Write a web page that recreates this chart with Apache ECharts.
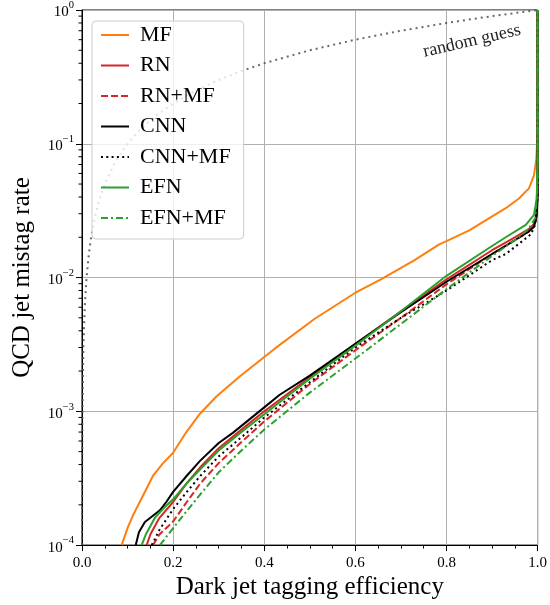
<!DOCTYPE html>
<html>
<head>
<meta charset="utf-8">
<script src="https://cdn.jsdelivr.net/npm/echarts@6/dist/echarts.min.js"></script>
<style>html,body{margin:0;padding:0;background:#fff;}#c{width:550px;height:605px;}</style>
</head>
<body>
<div id="c"></div>
<script>
// ---- data ----
const seriesNames = ['MF', 'RN', 'RN+MF', 'CNN', 'CNN+MF', 'EFN', 'EFN+MF'];

const mfEff    = [0.087, 0.101, 0.112, 0.134, 0.156, 0.178, 0.2, 0.229, 0.259, 0.295, 0.346, 0.423, 0.51, 0.6, 0.656, 0.73, 0.784, 0.8, 0.85, 0.894, 0.93, 0.959, 0.981, 0.992, 0.997, 1.0, 1.0];
const mfMistag = [1.0e-4, 1.37e-4, 1.67e-4, 2.35e-4, 3.3e-4, 4.1e-4, 4.9e-4, 7.0e-4, 9.6e-4, 1.29e-3, 1.82e-3, 2.94e-3, 4.9e-3, 7.7e-3, 9.7e-3, 1.35e-2, 1.77e-2, 1.87e-2, 2.25e-2, 2.78e-2, 3.3e-2, 3.9e-2, 4.64e-2, 5.8e-2, 7.7e-2, 0.12, 1.0];

const rnEff    = [0.142, 0.15, 0.17, 0.2, 0.23, 0.259, 0.3, 0.35, 0.4, 0.5, 0.6, 0.7, 0.8, 0.9, 0.95, 0.98, 0.992, 0.998, 1.0, 1.0];
const rnMistag = [1.0e-4, 1.2e-4, 1.6e-4, 2.1e-4, 2.9e-4, 3.8e-4, 5.3e-4, 7.3e-4, 1.0e-3, 1.8e-3, 3.2e-3, 5.6e-3, 9.7e-3, 1.6e-2, 2.0e-2, 2.3e-2, 2.5e-2, 3.0e-2, 5.0e-2, 1.0];

const rnmfEff    = [0.156, 0.17, 0.2, 0.23, 0.26, 0.3, 0.35, 0.4, 0.5, 0.6, 0.7, 0.8, 0.9, 0.95, 0.98, 0.995, 1.0, 1.0];
const rnmfMistag = [1.0e-4, 1.2e-4, 1.5e-4, 2.1e-4, 2.9e-4, 4.1e-4, 5.9e-4, 8.4e-4, 1.6e-3, 2.86e-3, 5.0e-3, 8.9e-3, 1.5e-2, 1.9e-2, 2.2e-2, 2.6e-2, 4.5e-2, 1.0];

const cnnEff    = [0.118, 0.125, 0.138, 0.15, 0.171, 0.185, 0.2, 0.23, 0.259, 0.3, 0.331, 0.4, 0.434, 0.5, 0.6, 0.7, 0.8, 0.9, 0.95, 0.98, 0.992, 0.998, 1.0, 1.0];
const cnnMistag = [1.0e-4, 1.25e-4, 1.49e-4, 1.6e-4, 1.82e-4, 2.1e-4, 2.5e-4, 3.3e-4, 4.26e-4, 5.8e-4, 6.9e-4, 1.07e-3, 1.33e-3, 1.85e-3, 3.2e-3, 5.5e-3, 9.3e-3, 1.5e-2, 1.9e-2, 2.2e-2, 2.4e-2, 2.9e-2, 4.0e-2, 1.0];

const cnnmfEff    = [0.153, 0.17, 0.2, 0.23, 0.26, 0.3, 0.35, 0.4, 0.5, 0.6, 0.7, 0.8, 0.9, 0.93, 0.96, 0.985, 0.995, 1.0, 1.0];
const cnnmfMistag = [1.0e-4, 1.3e-4, 1.86e-4, 2.5e-4, 3.3e-4, 4.6e-4, 6.4e-4, 9.0e-4, 1.65e-3, 3.0e-3, 5.0e-3, 8.0e-3, 1.35e-2, 1.5e-2, 1.8e-2, 2.1e-2, 2.5e-2, 4.0e-2, 1.0];

const efnEff    = [0.131, 0.14, 0.16, 0.18, 0.2, 0.23, 0.26, 0.3, 0.35, 0.4, 0.5, 0.6, 0.7, 0.8, 0.894, 0.93, 0.974, 0.992, 0.998, 1.0, 1.0];
const efnMistag = [1.0e-4, 1.2e-4, 1.6e-4, 1.9e-4, 2.2e-4, 2.9e-4, 3.7e-4, 5.1e-4, 7.0e-4, 9.5e-4, 1.75e-3, 3.1e-3, 5.6e-3, 1.03e-2, 1.67e-2, 2.0e-2, 2.48e-2, 2.94e-2, 3.9e-2, 7.0e-2, 1.0];

const efnmfEff    = [0.171, 0.185, 0.2, 0.23, 0.26, 0.3, 0.35, 0.4, 0.5, 0.6, 0.7, 0.8, 0.9, 0.95, 0.98, 0.995, 1.0, 1.0];
const efnmfMistag = [1.0e-4, 1.15e-4, 1.34e-4, 1.8e-4, 2.4e-4, 3.5e-4, 5.1e-4, 7.3e-4, 1.38e-3, 2.48e-3, 4.5e-3, 8.2e-3, 1.45e-2, 1.9e-2, 2.3e-2, 2.8e-2, 5.0e-2, 1.0];

// random guess: mistag rate equals efficiency
const randomEff    = [0.0001, 0.0003, 0.001, 0.003, 0.006, 0.01, 0.015, 0.02, 0.03, 0.04, 0.05, 0.07, 0.09, 0.11, 0.13, 0.16, 0.2, 0.25, 0.3, 0.35, 0.4, 0.5, 0.6, 0.7, 0.8, 0.9, 1.0];
const randomMistag = [0.0001, 0.0003, 0.001, 0.003, 0.006, 0.01, 0.015, 0.02, 0.03, 0.04, 0.05, 0.07, 0.09, 0.11, 0.13, 0.16, 0.2, 0.25, 0.3, 0.35, 0.4, 0.5, 0.6, 0.7, 0.8, 0.9, 1.0];

const yMinorTicks = [2e-4,3e-4,4e-4,5e-4,6e-4,7e-4,8e-4,9e-4,
                     2e-3,3e-3,4e-3,5e-3,6e-3,7e-3,8e-3,9e-3,
                     2e-2,3e-2,4e-2,5e-2,6e-2,7e-2,8e-2,9e-2,
                     0.2,0.3,0.4,0.5,0.6,0.7,0.8,0.9];

const xTitle = 'Dark jet tagging efficiency';
const yTitle = 'QCD jet mistag rate';
const annotation = 'random guess';

// ---- chart ----
const FONT = '"Liberation Serif", "DejaVu Serif", serif';
const pairs = (xs, ys) => xs.map((x, i) => [x, ys[i]]);

function line(name, xs, ys, color, type) {
  return {
    name, type: 'line', data: pairs(xs, ys), showSymbol: false, symbol: 'none',
    lineStyle: { color, width: 2, type: type, cap: 'butt', join: 'round' },
    itemStyle: { color },
    z: 3
  };
}

const chart = echarts.init(document.getElementById('c'), null, { renderer: 'canvas' });
chart.setOption({
  animation: false,
  backgroundColor: '#fff',
  grid: { left: 82, right: 12, top: 10, bottom: 55, show: true, borderColor: '#000', borderWidth: 1, backgroundColor: 'transparent' },
  xAxis: {
    type: 'value', min: 0, max: 1, interval: 0.2,
    name: xTitle, nameLocation: 'middle', nameGap: 28,
    nameTextStyle: { fontFamily: FONT, fontSize: 25, color: '#000' },
    axisLine: { show: true, lineStyle: { color: '#000', width: 1 } },
    axisTick: { show: true, length: 6, lineStyle: { color: '#000', width: 1 } },
    minorTick: { show: true, splitNumber: 4, length: 3.5, lineStyle: { color: '#000', width: 1 } },
    axisLabel: { fontFamily: FONT, fontSize: 15, color: '#000', margin: 10, formatter: v => v.toFixed(1) },
    splitLine: { show: true, lineStyle: { color: '#b0b0b0', width: 1 } }
  },
  yAxis: {
    type: 'log', logBase: 10, min: 1e-4, max: 1,
    name: yTitle, nameLocation: 'middle', nameGap: 47, nameRotate: 90,
    nameTextStyle: { fontFamily: FONT, fontSize: 25, color: '#000' },
    axisLine: { show: true, lineStyle: { color: '#000', width: 1 } },
    axisTick: { show: true, length: 6, lineStyle: { color: '#000', width: 1 } },
    axisLabel: {
      margin: 8,
      formatter: v => {
        const e = Math.round(Math.log10(v));
        return '{b|10}{s|' + (e < 0 ? '\u2212' + (-e) : e) + '}';
      },
      rich: {
        b: { fontFamily: FONT, fontSize: 15, color: '#000', lineHeight: 20, verticalAlign: 'bottom' },
        s: { fontFamily: FONT, fontSize: 10.5, color: '#000', lineHeight: 12, verticalAlign: 'top' }
      }
    },
    splitLine: { show: true, lineStyle: { color: '#b0b0b0', width: 1 } }
  },
  legend: {
    data: seriesNames,
    orient: 'vertical', left: 92, top: 21,
    padding: [3, 13, 10, 8],
    itemWidth: 28, itemHeight: 14, itemGap: 8.5,
    itemStyle: { opacity: 0 },
    backgroundColor: 'rgba(255,255,255,0.8)',
    borderColor: '#cccccc', borderWidth: 1, borderRadius: 4,
    textStyle: { fontFamily: FONT, fontSize: 22, color: '#000', lineHeight: 22, padding: [0, 0, 0, 6] }
  },
  graphic: [{
    type: 'text', x: 472, y: 41, rotation: 13 * Math.PI / 180,
    style: { text: annotation, font: '18px ' + FONT, fill: '#222', align: 'center', verticalAlign: 'middle' },
    z: 10
  }],
  series: [
    line('MF', mfEff, mfMistag, '#ff7f0e', 'solid'),
    line('RN', rnEff, rnMistag, '#d62728', 'solid'),
    line('RN+MF', rnmfEff, rnmfMistag, '#d62728', [7, 3]),
    line('CNN', cnnEff, cnnMistag, '#000000', 'solid'),
    line('CNN+MF', cnnmfEff, cnnmfMistag, '#000000', [2, 3.3]),
    line('EFN', efnEff, efnMistag, '#2ca02c', 'solid'),
    line('EFN+MF', efnmfEff, efnmfMistag, '#2ca02c', [7, 3, 2, 3]),
    {
      name: 'random guess', type: 'line', data: pairs(randomEff, randomMistag), symbol: 'none',
      lineStyle: { color: 'rgba(80,80,80,0.85)', width: 2, type: [2, 4], cap: 'butt' }, z: 2
    },
    {
      name: 'yminor', type: 'custom', silent: true, clip: false, z: 5,
      data: yMinorTicks.map(v => [0, v]),
      renderItem: (params, api) => {
        const p = api.coord([api.value(0), api.value(1)]);
        return { type: 'line', shape: { x1: p[0] - 3.5, y1: p[1], x2: p[0], y2: p[1] }, style: { stroke: '#000', lineWidth: 1 } };
      }
    }
  ]
});
</script>
</body>
</html>
